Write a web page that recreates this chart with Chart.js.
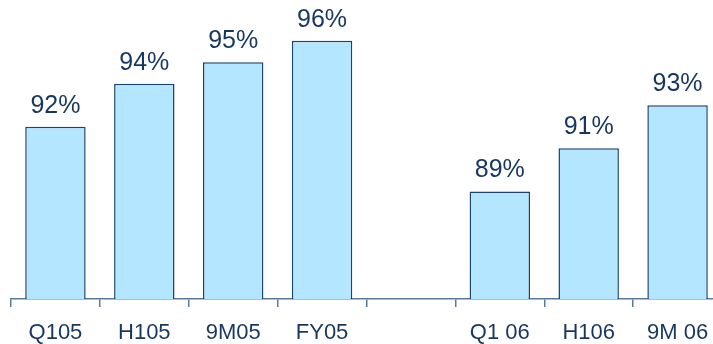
<!DOCTYPE html>
<html>
<head>
<meta charset="utf-8">
<script src="https://cdn.jsdelivr.net/npm/chart.js@4.4.0/dist/chart.umd.min.js"></script>
<style>
html,body{margin:0;padding:0;background:#fff;overflow:hidden;width:713px;height:344px;}
#wrap{position:absolute;left:0;top:0;width:722px;height:344px;}
</style>
</head>
<body>
<div id="wrap"><canvas id="c" width="722" height="344"></canvas></div>
<script>
const categories = ['Q105', 'H105', '9M05', 'FY05', '', 'Q1 06', 'H106', '9M 06'];
const values = [92, 94, 95, 96, null, 89, 91, 93];
const valueLabels = ['92%', '94%', '95%', '96%', '', '89%', '91%', '93%'];

const textColor = '#17375E';
const axisColor = '#5A7A9C';

const labelPlugin = {
  id: 'valueLabels',
  afterDatasetsDraw(chart) {
    const ctx = chart.ctx;
    const meta = chart.getDatasetMeta(0);
    ctx.save();
    ctx.fillStyle = textColor;
    ctx.font = '25px "Liberation Sans", Arial, sans-serif';
    ctx.textAlign = 'center';
    ctx.textBaseline = 'alphabetic';
    meta.data.forEach((bar, i) => {
      if (values[i] == null) return;
      ctx.fillText(valueLabels[i], bar.x, bar.y - 14);
    });
    ctx.restore();
  }
};

new Chart(document.getElementById('c'), {
  type: 'bar',
  data: {
    labels: categories,
    datasets: [{
      data: values,
      backgroundColor: '#B5E6FF',
      borderColor: '#1B4270',
      borderWidth: 1.5,
      barPercentage: 0.68,
      categoryPercentage: 1.0
    }]
  },
  options: {
    responsive: false,
    animation: false,
    layout: { padding: { left: 11, right: 0, top: 2, bottom: 0 } },
    plugins: { legend: { display: false }, tooltip: { enabled: false } },
    scales: {
      y: { display: false, min: 84, max: 97.8 },
      x: {
        offset: true,
        afterFit(scale) { scale.height = 45; },
        grid: { display: true, drawOnChartArea: false, offset: true, tickLength: 8, color: axisColor, lineWidth: 1.5 },
        border: { display: true, color: axisColor, width: 1.5 },
        ticks: { color: textColor, font: { family: '"Liberation Sans", Arial, sans-serif', size: 22 }, padding: 13, maxRotation: 0, autoSkip: false }
      }
    }
  },
  plugins: [labelPlugin]
});
</script>
</body>
</html>
